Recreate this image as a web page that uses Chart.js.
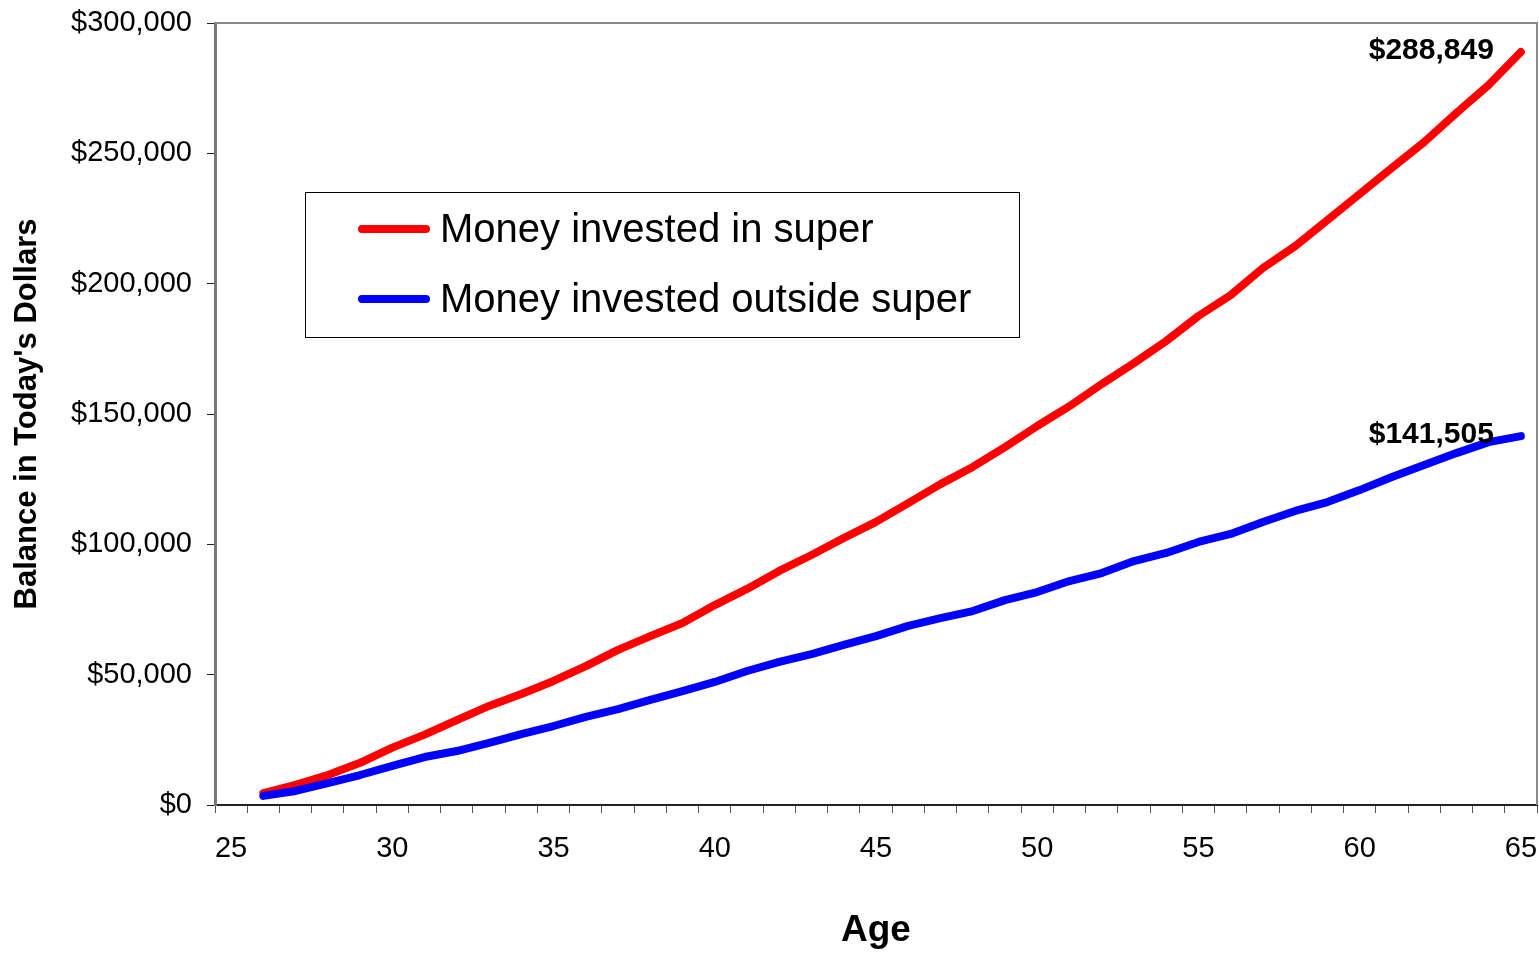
<!DOCTYPE html>
<html>
<head>
<meta charset="utf-8">
<title>Balance in Today's Dollars</title>
<script src="https://cdn.jsdelivr.net/npm/chart.js@4/dist/chart.umd.min.js"></script>
<style>
  html, body { margin: 0; padding: 0; background: #fff; }
  #wrap { width: 1539px; height: 953px; position: relative; }
</style>
</head>
<body>
<div id="wrap"><canvas id="balanceChart"></canvas></div>
<script>
// Age on the x axis (25 has no value, the lines start at 26)
const ages = [25, 26, 27, 28, 29, 30, 31, 32, 33, 34, 35, 36, 37, 38, 39, 40, 41, 42, 43, 44, 45,
              46, 47, 48, 49, 50, 51, 52, 53, 54, 55, 56, 57, 58, 59, 60, 61, 62, 63, 64, 65];

// Money invested in super
const superValues = [null, 4600, 7700, 11500, 16200, 22000, 27000, 32600, 38000, 42600, 47600,
                     53300, 59500, 64800, 69800, 76700, 82900, 89800, 95900, 102400, 108600,
                     115800, 123100, 129700, 137300, 145400, 153000, 161500, 169500, 178000, 187600,
                     195600, 206000, 214400, 224400, 234400, 244400, 254300, 265500, 276200, 288849];

// Money invested outside super
const outsideValues = [null, 3500, 5400, 8400, 11500, 15000, 18400, 20700, 23800, 27200, 30300,
                       33800, 36800, 40300, 43700, 47200, 51400, 54900, 57900, 61400, 64800,
                       68700, 71700, 74400, 78600, 81700, 85900, 89000, 93600, 96700, 100900,
                       104000, 108600, 112800, 116200, 120800, 125800, 130400, 135000, 139200, 141505];

const seriesLabels = ['Money invested in super', 'Money invested outside super'];
const yTicks = [0, 50000, 100000, 150000, 200000, 250000, 300000];

function dollars(v) {
    return '$' + Number(v).toLocaleString('en-US');
}

// gray frame on top and right of the plot area, like the original
const plotFrame = {
    id: 'plotFrame',
    afterDraw(chart) {
        const { ctx, chartArea } = chart;
        ctx.save();
        ctx.strokeStyle = '#8a8a8a';
        ctx.lineWidth = 2;
        ctx.beginPath();
        ctx.moveTo(chartArea.left, chartArea.top);
        ctx.lineTo(chartArea.right, chartArea.top);
        ctx.lineTo(chartArea.right, chartArea.bottom);
        ctx.stroke();
        ctx.restore();
    }
};

// value label at the end of each line
const endLabels = {
    id: 'endLabels',
    afterDatasetsDraw(chart) {
        const ctx = chart.ctx;
        ctx.save();
        ctx.font = 'bold 30px "Liberation Sans", Arial, sans-serif';
        ctx.fillStyle = '#000';
        ctx.textAlign = 'right';
        ctx.textBaseline = 'middle';
        chart.data.datasets.forEach((ds, i) => {
            const meta = chart.getDatasetMeta(i);
            const last = meta.data[meta.data.length - 1];
            ctx.fillText(dollars(ds.data[ds.data.length - 1]), last.x - 27, last.y - 1);
        });
        ctx.restore();
    }
};

// boxed legend sitting inside the plot
const boxLegend = {
    id: 'boxLegend',
    afterDraw(chart) {
        const ctx = chart.ctx;
        ctx.save();
        ctx.fillStyle = '#fff';
        ctx.fillRect(305, 192, 714, 145);
        ctx.strokeStyle = '#000';
        ctx.lineWidth = 1;
        ctx.strokeRect(305.5, 192.5, 714, 145);

        ctx.font = '40px "Liberation Sans", Arial, sans-serif';
        ctx.textBaseline = 'middle';
        ctx.textAlign = 'left';
        ctx.lineCap = 'round';
        const rows = [229, 299];
        chart.data.datasets.forEach((ds, i) => {
            ctx.strokeStyle = ds.borderColor;
            ctx.lineWidth = 8;
            ctx.beginPath();
            ctx.moveTo(362, rows[i]);
            ctx.lineTo(426, rows[i]);
            ctx.stroke();
            ctx.fillStyle = '#000';
            ctx.fillText(ds.label, 440, rows[i] + 2);
        });
        ctx.restore();
    }
};

const ctx = document.getElementById('balanceChart').getContext('2d');
new Chart(ctx, {
    type: 'line',
    data: {
        labels: ages,
        datasets: [
            {
                label: seriesLabels[0],
                data: superValues,
                borderColor: '#ff0000',
                borderWidth: 8,
                borderCapStyle: 'round',
                borderJoinStyle: 'round',
                pointRadius: 0,
                tension: 0,
                order: 1
            },
            {
                label: seriesLabels[1],
                data: outsideValues,
                borderColor: '#0000ff',
                borderWidth: 8,
                borderCapStyle: 'round',
                borderJoinStyle: 'round',
                pointRadius: 0,
                tension: 0,
                order: 0
            }
        ]
    },
    options: {
        responsive: true,
        maintainAspectRatio: false,
        animation: false,
        layout: { padding: { top: 23, right: 2, left: 0, bottom: 0 } },
        plugins: {
            legend: { display: false },
            tooltip: { enabled: false }
        },
        scales: {
            x: {
                type: 'category',
                offset: true,
                afterFit(scale) {
                    scale.height = 148;
                    scale.paddingLeft = 0;
                    scale.paddingRight = 0;
                },
                grid: {
                    offset: true,
                    drawOnChartArea: false,
                    drawTicks: true,
                    tickLength: 8,
                    tickColor: '#555'
                },
                border: { display: true, color: '#222', width: 2 },
                ticks: {
                    autoSkip: false,
                    maxRotation: 0,
                    padding: 19,
                    color: '#000',
                    font: { family: '"Liberation Sans", Arial, sans-serif', size: 29 },
                    callback(value) {
                        const age = ages[value];
                        return age % 5 === 0 ? String(age) : '';
                    }
                },
                title: {
                    display: true,
                    text: 'Age',
                    color: '#000',
                    font: { family: '"Liberation Sans", Arial, sans-serif', size: 37, weight: 'bold' },
                    padding: { top: 0, bottom: 0 }
                }
            },
            y: {
                min: 0,
                max: 300000,
                afterFit(scale) {
                    scale.width = 215;
                    scale.paddingTop = 0;
                    scale.paddingBottom = 0;
                },
                afterBuildTicks(scale) {
                    scale.ticks = yTicks.map(v => ({ value: v }));
                },
                grid: {
                    drawOnChartArea: false,
                    drawTicks: true,
                    tickLength: 8,
                    tickColor: '#222'
                },
                border: { display: true, color: '#777', width: 3 },
                ticks: {
                    padding: 15,
                    color: '#000',
                    font: { family: '"Liberation Sans", Arial, sans-serif', size: 29 },
                    callback: value => dollars(value)
                },
                title: {
                    display: true,
                    text: "Balance in Today's Dollars",
                    color: '#000',
                    font: { family: '"Liberation Sans", Arial, sans-serif', size: 31, weight: 'bold' },
                    padding: { top: 9, bottom: 0 }
                }
            }
        }
    },
    plugins: [plotFrame, endLabels, boxLegend]
});
</script>
</body>
</html>
